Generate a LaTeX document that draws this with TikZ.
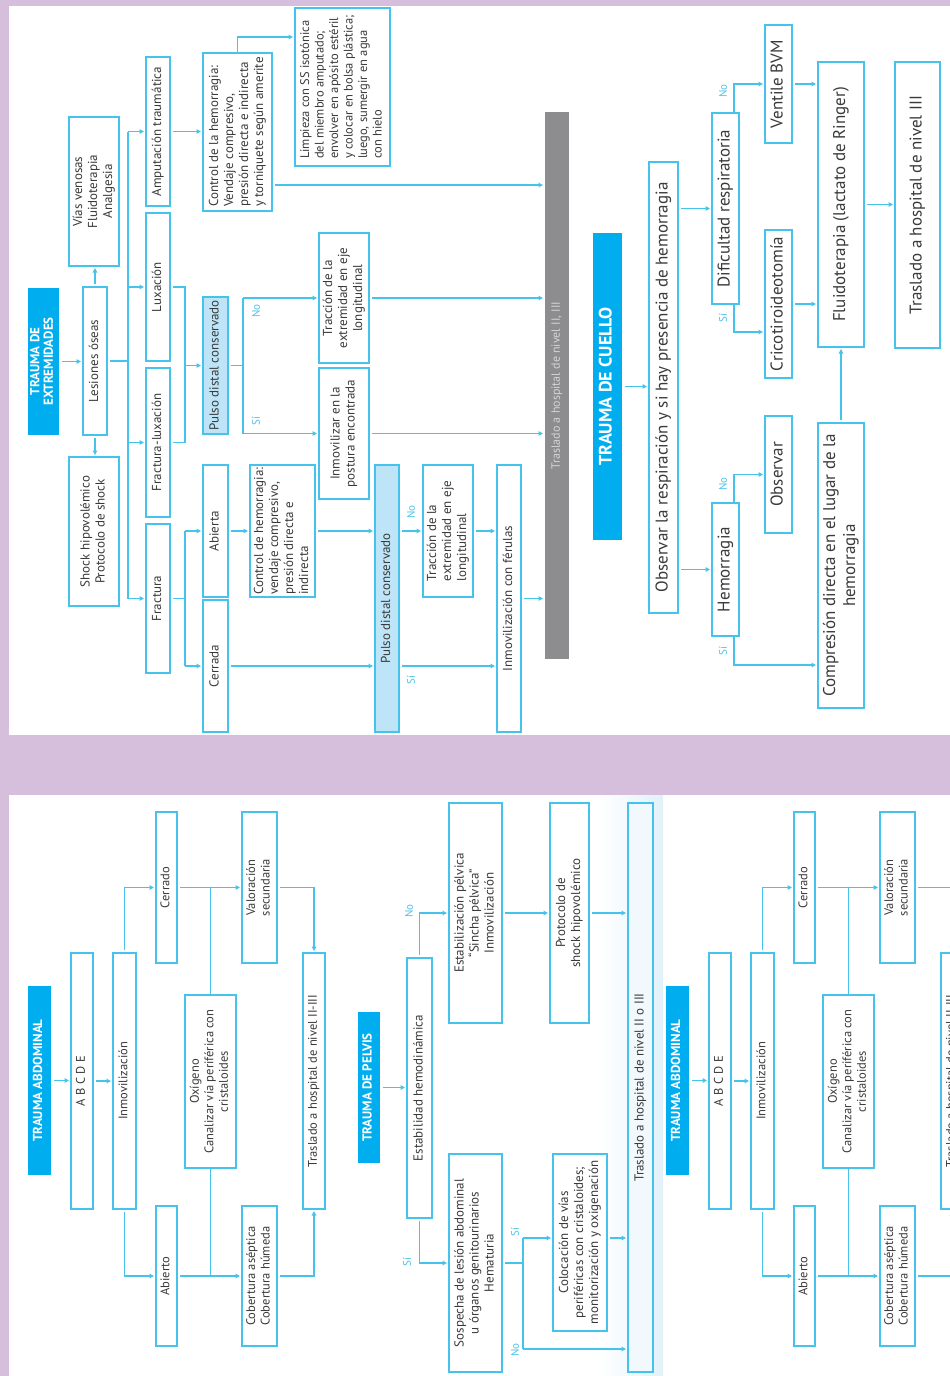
\documentclass[tikz,border=0pt]{standalone}
\usepackage{fontspec}
\setmainfont{PT Sans}
\usepackage{graphicx}
\usetikzlibrary{arrows.meta}

\definecolor{lav}{HTML}{D6BFDD}
\definecolor{cyanln}{HTML}{45C3EC}
\definecolor{cyanlb}{HTML}{4CC3E8}
\definecolor{ttl}{HTML}{00AEEF}
\definecolor{pulsec}{HTML}{BDE5F7}
\definecolor{barc}{HTML}{8D8D8F}
\definecolor{bartxt}{HTML}{D4D4D6}
\definecolor{txt}{HTML}{3A3A3A}
\definecolor{haze}{HTML}{E2F1F9}
\definecolor{trfill}{HTML}{F2F9FD}

% rotated (bottom-to-top) multi-line text
\newcommand\rt[2][c]{\rotatebox{90}{\begin{tabular}{@{}#1@{}}#2\end{tabular}}}
% box from corner (x1,y1) to (x2,y2): [style]{name}{x1}{y1}{x2}{y2}{text}
\newcommand\bx[7][]{\node[bxs,#1,minimum width={(#5-#3)*1pt},minimum height={(#6-#4)*1pt}] (#2) at ({(#3+#5)/2},{(#4+#6)/2}) {#7};}

% abdominal trauma flow: {prefix}{x offset}
\newcommand\abd[2]{%
\begin{scope}[xshift=#2pt]
\bx[ttlbox]{#1t}{28}{986}{51}{1175}{\rt{TRAUMA ABDOMINAL}}
\bx[ab]{#1abc}{71}{953}{93}{1209}{\rt{A B C D E}}
\bx[ab]{#1inm}{113}{953}{136}{1209}{\rt{Inmovilización}}
\bx[ab]{#1cer}{156}{812}{177}{963}{\rt{Cerrado}}
\bx[ab]{#1abi}{156}{1206}{177}{1346}{\rt{Abierto}}
\bx[ab]{#1oxi}{185}{995}{236}{1168}{\rt{Oxígeno\\Canalizar vía periférica con\\cristaloides}}
\bx[ab]{#1val}{242}{812}{277}{963}{\rt{Valoración\\secundaria}}
\bx[ab]{#1cob}{242}{1206}{277}{1346}{\rt{Cobertura aséptica\\Cobertura húmeda}}
\bx[ab]{#1tra}{303}{953}{325}{1209}{\rt{Traslado a hospital de nivel II-III}}
\end{scope}
\draw[arr,gap] (#1t.east) -- (#1t.east -| #1abc.west);
\draw[arr,gap] (#1abc.east) -- (#1inm.west);
\draw[arr,gap] (#1inm.north) |- (#1cer.west);
\draw[arr,gap] (#1inm.south) |- (#1abi.west);
\draw[arr,gap] (#1cer.east) -- (#1val.west);
\draw[arr,gap] (#1abi.east) -- (#1cob.west);
\draw[ln] (#1oxi.north) -- (#1oxi.north |- #1cer.east);
\draw[ln] (#1oxi.south) -- (#1oxi.south |- #1abi.east);
\draw[arr,gap] (#1val.east) -| (#1tra.north);
\draw[arr,gap] (#1cob.east) -| (#1tra.south);
}

\begin{document}
\begin{tikzpicture}[x=1pt,y=-1pt,
  bxs/.style={draw=cyanln,line width=1.8pt,fill=white,inner sep=0pt,outer sep=0pt,
    text=txt,font=\fontsize{13}{15}\selectfont},
  cu/.style={font=\fontsize{17}{20}\selectfont},
  ab/.style={font=\fontsize{12.5}{14.5}\selectfont},
  sm/.style={font=\fontsize{12.5}{14.5}\selectfont},
  ttlbox/.style={draw=none,fill=ttl,text=white,font=\bfseries\fontsize{13}{13.5}\selectfont},
  pulse/.style={fill=pulsec},
  barbox/.style={draw=none,fill=barc,text=bartxt,font=\fontsize{12}{14}\selectfont},
  ln/.style={draw=cyanln,line width=1.5pt},
  arr/.style={ln,-{Triangle[length=4.5pt,width=4.5pt]},shorten >=2pt},
  gap/.style={shorten <=3pt},
  lbl/.style={text=cyanlb,font=\fontsize{11}{13}\selectfont,rotate=90,inner sep=0pt}]

\useasboundingbox (0,0) rectangle (950,1376);
\clip (0,0) rectangle (950,1376);

% page background and the two panels
\fill[lav] (0,0) rectangle (950,1376);
\fill[white] (9,6) rectangle (950,735);
\fill[white] (9,795) rectangle (950,1376);
\fill[left color=white,right color=haze] (598,795) rectangle (663,1376);

% ---------------- Trauma de extremidades ----------------
\bx[ttlbox]{tex}{28}{288}{59}{435}{\rt{TRAUMA DE\\EXTREMIDADES}}
\bx{les}{83}{287}{107}{435}{\rt{Lesiones óseas}}
\bx{vias}{69}{117}{119}{266}{\rt{Vías venosas\\Fluidoterapia\\Analgesia}}
\bx{shock}{69}{457}{119}{606}{\rt{Shock hipovolémico\\Protocolo de shock}}
\bx{amp}{146}{57}{170}{206}{\rt{Amputación traumática}}
\bx{lux}{146}{213}{170}{361}{\rt{Luxación}}
\bx{frlux}{146}{368}{170}{517}{\rt{Fractura-luxación}}
\bx{frac}{146}{524}{170}{673}{\rt{Fractura}}
\bx[pulse]{pul1}{203}{297}{228}{434}{\rt{Pulso distal conservado}}
\bx{ctl1}{203}{53}{272}{211}{\rt[l]{Control de la hemorragia:\\Vendaje compresivo,\\presión directa e indirecta\\y torniquete según amerite}}
\bx[sm]{limp}{295}{8}{390}{166}{\rt[l]{Limpieza con SS isotónica\\del miembro amputado;\\envolver en apósito estéril\\y colocar en bolsa plástica;\\luego, sumergir en agua\\con hielo}}
\bx{trac1}{319}{233}{369}{363}{\rt{Tracción de la\\extremidad en eje\\longitudinal}}
\bx{inm1}{319}{368}{369}{499}{\rt{Inmovilizar en la\\postura encontrada}}
\bx{abie}{203}{465}{228}{597}{\rt{Abierta}}
\bx{cerr}{203}{600}{228}{732}{\rt{Cerrada}}
\bx{ctl2}{250}{465}{315}{597}{\rt[l]{Control de hemorragia:\\vendaje compresivo,\\presión directa e\\indirecta}}
\bx[pulse]{pul2}{375}{465}{399}{732}{\rt{Pulso distal conservado}}
\bx{trac2}{423}{465}{473}{597}{\rt[l]{Tracción de la\\extremidad en eje\\longitudinal}}
\bx{feru}{497}{465}{521}{732}{\rt{Inmovilización con férulas}}
\bx[barbox]{bar}{545}{112}{569}{659}{\rt{Traslado a hospital de nivel II, III}}

\draw[arr,gap] (tex.east) -- (tex.east -| les.west);
\draw[arr,gap] (les.north) -- (les.north |- vias.south);
\draw[arr,gap] (les.south) -- (les.south |- shock.north);
\coordinate (b1) at (128,0);
\draw[ln,gap] (les.east) -- (les.east -| b1);
\draw[ln] (amp.west -| b1) -- (frac.west -| b1);
\foreach \n in {amp,lux,frlux,frac} \draw[arr] (\n.west -| b1) -- (\n.west);
\coordinate (b2) at (185,0);
\draw[ln,gap] (lux.east) -- (lux.east -| b2) -- (frlux.east -| b2);
\draw[ln,gap] (frlux.east) -- (frlux.east -| b2);
\draw[arr] (pul1.west -| b2) -- (pul1.west);
\coordinate (b3) at (243,0);
\draw[ln,gap] (pul1.east) -- (pul1.east -| b3);
\draw[ln] (trac1.west -| b3) -- (inm1.west -| b3);
\draw[arr] (trac1.west -| b3) -- (trac1.west);
\draw[arr] (inm1.west -| b3) -- (inm1.west);
\node[lbl] (l1) at (256,311) {No};
\node[lbl] (l2) at (256,421) {Sí};
\draw[arr,gap] (amp.east) -- (amp.east -| ctl1.west);
\draw[arr] (ctl1.north) |- ([yshift=50pt]limp.west);
\draw[arr,gap] (ctl1.east |- 0,185) -- (bar.west |- 0,185);
\draw[arr,gap] (trac1.east) -- (trac1.east -| bar.west);
\draw[arr,gap] (inm1.east) -- (inm1.east -| bar.west);
\draw[ln,gap] (frac.east) -- (frac.east -| b2);
\draw[ln] (abie.west -| b2) -- (cerr.west -| b2);
\draw[arr] (abie.west -| b2) -- (abie.west);
\draw[arr] (cerr.west -| b2) -- (cerr.west);
\draw[arr,gap] (abie.east) -- (ctl2.west);
\draw[arr,gap] (ctl2.east) -- (ctl2.east -| pul2.west);
\draw[arr,gap] (cerr.east) -- (cerr.east -| pul2.west);
\draw[arr,gap] (trac2.west -| pul2.east) -- (trac2.west);
\draw[arr,gap] (cerr.east -| pul2.east) -- (cerr.east -| feru.west);
\node[lbl] (l3) at (411,512) {No};
\node[lbl] (l4) at (411,680) {Sí};
\draw[arr,gap] (trac2.east) -- (trac2.east -| feru.west);
\draw[arr,gap] (feru.east) -- (feru.east -| bar.west);

% ---------------- Trauma de cuello ----------------
\bx[ttlbox,font=\bfseries\fontsize{18}{20}\selectfont]{tcu}{593}{233}{622}{540}{\rt{TRAUMA DE CUELLO}}
\bx[cu]{obs}{649}{162}{678}{613}{\rt{Observar la respiración y si hay presencia de hemorragia}}
\bx[cu]{dif}{712}{113}{739}{304}{\rt{Dificultad respiratoria}}
\bx[cu]{hem}{712}{503}{739}{636}{\rt{Hemorragia}}
\bx[cu]{vent}{765}{25}{792}{143}{\rt{Ventile BVM}}
\bx[cu]{cric}{765}{230}{792}{378}{\rt{Cricotiroideotomía}}
\bx[cu]{obsv}{765}{416}{792}{533}{\rt{Observar}}
\bx[cu]{comp}{818}{423}{864}{708}{\rt{Compresión directa en el lugar de la\\hemorragia}}
\bx[cu]{flu}{818}{62}{864}{347}{\rt{Fluidoterapia (lactato de Ringer)}}
\bx[cu]{tr3}{895}{62}{940}{348}{\rt{Traslado a hospital de nivel III}}

\draw[arr,gap] (tcu.east) -- (tcu.east -| obs.west);
\draw[arr,gap] (dif.west -| obs.east) -- (dif.west);
\draw[arr,gap] (hem.west -| obs.east) -- (hem.west);
\draw[arr] (dif.north -| 734,0) |- (vent.west);
\draw[arr] (dif.south -| 734,0) |- (cric.west |- 0,332);
\draw[arr] (hem.north -| 734,0) |- (obsv.west);
\draw[arr] (hem.south -| 734,0) |- (comp.west |- 0,665);
\node[lbl] (l5) at (723,91) {No};
\node[lbl] (l6) at (723,318) {Sí};
\node[lbl] (l7) at (723,484) {No};
\node[lbl] (l8) at (723,651) {Sí};
\draw[arr,gap] (vent.east) -- (vent.east -| flu.west);
\draw[arr,gap] (cric.east) -- (cric.east -| flu.west);
\draw[arr,gap] (comp.north) -- (flu.south);
\draw[arr,gap] (flu.east) -- (flu.east -| tr3.west);

% ---------------- Trauma abdominal (two copies) ----------------
\abd{aL}{0}
\abd{aR}{638}

% ---------------- Trauma de pelvis ----------------
\bx[ttlbox]{tpe}{358}{1012}{380}{1163}{\rt{TRAUMA DE PELVIS}}
\bx{est}{407}{958}{432}{1218}{\rt{Estabilidad hemodinámica}}
\bx{esp}{449}{803}{502}{1023}{\rt{Estabilización pélvica\\“Sincha pélvica”\\Inmovilización}}
\bx{pro}{550}{803}{589}{1023}{\rt{Protocolo de\\shock hipovolémico}}
\bx[fill=trfill]{tr23}{628}{803}{653}{1372}{\rt{Traslado a hospital de nivel II o III}}
\bx{sos}{449}{1154}{502}{1372}{\rt{Sospecha de lesión abdominal\\u órganos genitourinarios\\Hematuria}}
\bx{col}{553}{1154}{607}{1331}{\rt{Colocación de vías\\periféricas con cristaloides;\\monitorización y oxigenación}}

\draw[arr,gap] (tpe.east) -- (tpe.east -| est.west);
\draw[arr,gap] (est.north) |- (esp.west);
\draw[arr,gap] (est.south) |- (sos.west);
\node[lbl] (l9) at (409,911) {No};
\node[lbl] (l10) at (407,1262) {Sí};
\draw[arr,gap] (esp.east) -- (pro.west);
\draw[arr,gap] (pro.east) -- (pro.east -| tr23.west);
\coordinate (b5) at (523,0);
\draw[ln,gap] (sos.east) -- (sos.east -| b5);
\draw[ln] (b5 |- 0,1238) -- (b5 |- 0,1349);
\draw[arr] (b5 |- 0,1238) -- (col.west |- 0,1238);
\draw[arr] (b5 |- 0,1349) -- (tr23.west |- 0,1349);
\node[lbl] (l11) at (515,1232) {Sí};
\node[lbl] (l12) at (515,1350) {No};
\draw[arr,gap] (col.east |- 0,1238) -- (tr23.west |- 0,1238);

\end{tikzpicture}
\end{document}
